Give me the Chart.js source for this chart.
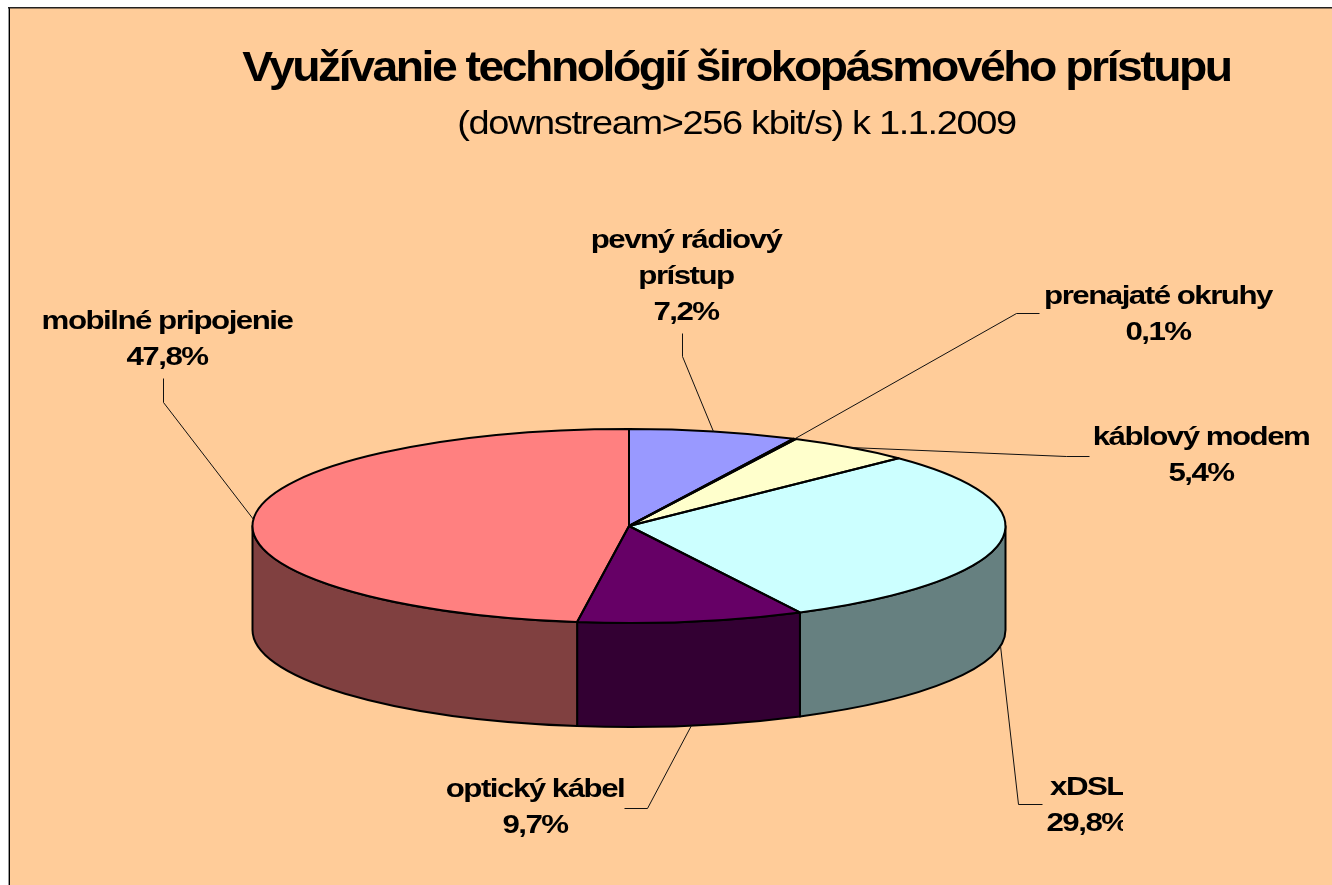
<!DOCTYPE html>
<html lang="sk">
<head>
<meta charset="utf-8">
<title>Využívanie technológií širokopásmového prístupu</title>
<style>html,body{margin:0;padding:0;background:#fff;overflow:hidden}canvas{display:block}</style>
<script src="https://cdn.jsdelivr.net/npm/chart.js@4/dist/chart.umd.min.js"></script>
</head>
<body>
<canvas id="c" width="1332" height="885"></canvas>
<script>
const categories = [['pevný rádiový', 'prístup'], 'prenajaté okruhy', 'káblový modem', 'xDSL', 'optický kábel', 'mobilné pripojenie'];
const values = [7.2, 0.1, 5.4, 29.8, 9.7, 47.8];
const topColors = ['#9999FF', '#993366', '#FFFFCC', '#CCFFFF', '#660066', '#FF8080'];
const sideColors = ['#4D4D80', '#4D1933', '#808066', '#668080', '#330033', '#804040'];
const titleText = 'Využívanie technológií širokopásmového prístupu';
const subtitleText = '(downstream>256 kbit/s) k 1.1.2009';

// layout of the tilted pie on the page
const PIE = { cx: 629, cy: 526, rx: 376.5, ry: 97, depth: 104 };
const LABEL_STRETCH = 1.25;
// label text centre (x, first line y), elbow of the leader and its end near the text
const labelLayout = [
  { x: 686, y: 241, elbow: [682, 356], end: [682, 333] },
  { x: 1158, y: 297, elbow: [1016, 313], end: [1039, 313] },
  { x: 1201, y: 438, elbow: [1066, 456], end: [1089, 456] },
  { x: 1087, y: 788, elbow: [1018, 804], end: [1042, 804], clipRight: 1123 },
  { x: 535, y: 790, elbow: [647, 808], end: [624, 808] },
  { x: 167, y: 322, elbow: [163, 402], end: [163, 378] }
];

const frame = {
  id: 'frame',
  beforeDraw(chart) {
    const c = chart.ctx;
    c.save();
    c.fillStyle = '#fff';
    c.fillRect(0, 0, chart.width, chart.height);
    c.fillStyle = '#FFCC99';
    c.fillRect(9, 7, chart.width, chart.height);
    c.fillStyle = '#999';
    c.fillRect(8, 7, 1, chart.height);
    c.fillStyle = '#000';
    c.fillRect(9, 7, 1, chart.height);
    c.fillStyle = '#222';
    c.fillRect(8, 7, chart.width, 1.5);
    c.restore();
  }
};

const textStyles = [
  { text: titleText, ls: '-2.3px', sx: 1.077 },
  { text: subtitleText, ls: '-1.2px', sx: 1.116 }
];

const spacing = {
  id: 'spacing',
  afterLayout(chart) {
    chart.boxes.forEach(box => {
      const st = box.options && textStyles.find(s => s.text === box.options.text);
      if (!st || box._wrapped) return;
      const orig = box.draw;
      box.draw = function (a) {
        const c = this.ctx, mid = (this.left + this.right) / 2;
        c.save();
        c.letterSpacing = st.ls;
        c.translate(mid, 0);
        c.scale(st.sx, 1);
        c.translate(-mid, 0);
        orig.call(this, a);
        c.restore();
      };
      box._wrapped = true;
    });
  }
};

const tilt = {
  id: 'tilt',
  beforeDatasetsDraw(chart) {
    const c = chart.ctx, arcs = chart.getDatasetMeta(0).data, P = PIE;
    // walls
    c.save();
    c.lineWidth = 2;
    c.strokeStyle = '#000';
    c.lineJoin = 'round';
    arcs.forEach((arc, i) => {
      const a = Math.max(arc.startAngle, 0), b = Math.min(arc.endAngle, Math.PI);
      if (a >= b) return;
      c.beginPath();
      c.ellipse(P.cx, P.cy, P.rx, P.ry, 0, a, b);
      c.ellipse(P.cx, P.cy + P.depth, P.rx, P.ry, 0, b, a, true);
      c.closePath();
      c.fillStyle = sideColors[i];
      c.fill();
      c.stroke();
    });
    c.restore();
    // top face: the library's arcs, drawn in a squashed space
    const a0 = arcs[0];
    c.save();
    c.translate(P.cx, P.cy);
    c.scale(P.rx / a0.outerRadius, P.ry / a0.outerRadius);
    c.translate(-a0.x, -a0.y);
  },
  afterDatasetsDraw(chart) {
    const c = chart.ctx, arcs = chart.getDatasetMeta(0).data, P = PIE;
    c.restore();
    c.save();
    c.strokeStyle = '#000';
    c.lineWidth = 2;
    c.lineJoin = 'round';
    arcs.forEach(arc => {
      c.beginPath();
      c.moveTo(P.cx, P.cy);
      c.ellipse(P.cx, P.cy, P.rx, P.ry, 0, arc.startAngle, arc.endAngle);
      c.closePath();
      c.stroke();
    });
    c.restore();
    // leaders and labels
    c.save();
    c.font = 'bold 25px "Liberation Sans", Arial, sans-serif';
    c.textAlign = 'center';
    c.textBaseline = 'middle';
    c.fillStyle = '#000';
    c.letterSpacing = '-1.2px';
    arcs.forEach((arc, i) => {
      const L = labelLayout[i];
      const mid = (arc.startAngle + arc.endAngle) / 2;
      const px = P.cx + P.rx * Math.cos(mid);
      let py = P.cy + P.ry * Math.sin(mid);
      if (Math.sin(mid) > 0) py += P.depth;
      c.beginPath();
      c.moveTo(px, py);
      c.lineTo(L.elbow[0] + .5, L.elbow[1] + .5);
      c.lineTo(L.end[0] + .5, L.end[1] + .5);
      c.lineWidth = 1;
      c.strokeStyle = '#111';
      c.stroke();
      const lines = [].concat(categories[i], values[i].toFixed(1).replace('.', ',') + '%');
      c.save();
      if (L.clipRight) {
        c.beginPath();
        c.rect(0, 0, L.clipRight, chart.height);
        c.clip();
      }
      c.translate(L.x, L.y);
      c.scale(LABEL_STRETCH, 1);
      lines.forEach((t, k) => c.fillText(t, 0, k * 36));
      c.restore();
    });
    c.restore();
  }
};

new Chart(document.getElementById('c'), {
  type: 'pie',
  data: {
    labels: categories,
    datasets: [{
      data: values,
      backgroundColor: topColors,
      borderWidth: 0,
      clip: false
    }]
  },
  options: {
    responsive: false,
    animation: false,
    rotation: 0,
    layout: { padding: { left: 141, top: 45, right: 0, bottom: 0 } },
    plugins: {
      legend: { display: false },
      tooltip: { enabled: false },
      title: {
        display: true,
        text: titleText,
        color: '#000',
        font: { family: '"Liberation Sans", Arial, sans-serif', size: 43, weight: 'bold', lineHeight: 1.1 },
        padding: { top: 0, bottom: 14 }
      },
      subtitle: {
        display: true,
        text: subtitleText,
        color: '#000',
        font: { family: '"Liberation Sans", Arial, sans-serif', size: 34, weight: 'normal', lineHeight: 1.1 },
        padding: { top: 0, bottom: 10 }
      }
    }
  },
  plugins: [frame, spacing, tilt]
});
</script>
</body>
</html>
